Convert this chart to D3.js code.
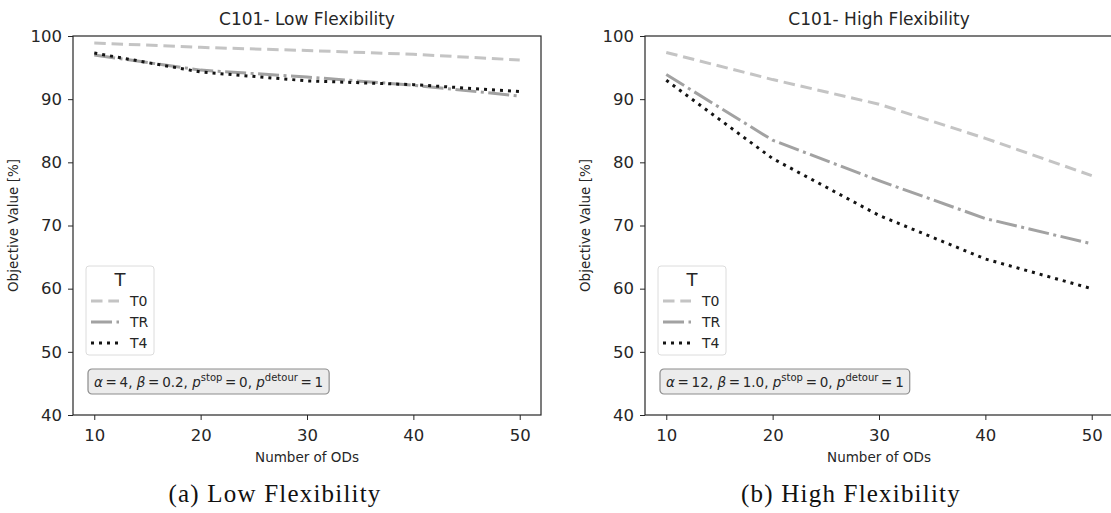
<!DOCTYPE html>
<meta charset="utf-8">
<style>
body { margin: 0; background: #fff; }
svg { display: block; font-family: "DejaVu Sans", sans-serif; }
.axis path, .axis line { stroke: #262626; }
.axis text { font-size: 16.5px; fill: #262626; font-family: "DejaVu Sans", sans-serif; }
.title { font-size: 17px; fill: #262626; }
.label { font-size: 13.5px; fill: #262626; }
.caption { font-family: "Liberation Serif", serif; font-size: 25px; letter-spacing: 1.2px; fill: #111; }
</style>
<svg width="1111" height="513"></svg>
<script src="https://d3js.org/d3.v7.min.js"></script>
<script>
// values
const ods = [10, 20, 30, 40, 50];
const seriesNames = ["T0", "TR", "T4"];
const lowT0 = [98.9, 98.2, 97.7, 97.1, 96.2];
const lowTR = [97.0, 94.6, 93.5, 92.2, 90.5];
const lowT4 = [97.3, 94.3, 92.9, 92.3, 91.2];
const highT0 = [97.4, 93.1, 89.2, 83.8, 77.9];
const highTR = [93.9, 83.5, 77.1, 71.1, 67.1];
const highT4 = [93.0, 80.6, 71.6, 64.7, 60.0];
const xTicks = [10, 20, 30, 40, 50];
const yTicks = [40, 50, 60, 70, 80, 90, 100];
const titles = ["C101- Low Flexibility", "C101- High Flexibility"];
const captions = ["(a) Low Flexibility", "(b) High Flexibility"];
const alphas = ["4", "12"];
const betas = ["0.2", "1.0"];

var styles = {
  T0: {color: "#c4c4c4", dash: "11.5,5.8"},
  TR: {color: "#a2a2a2", dash: "21,4.5,3,4.5"},
  T4: {color: "#141414", dash: "3,5"}
};

var panels = [
  {left: 73, right: 541, series: [lowT0, lowTR, lowT4]},
  {left: 645, right: 1113, series: [highT0, highTR, highT4]}
];
var plotTop = 36, plotBottom = 415;

var svg = d3.select("svg");

panels.forEach(function(p, i) {
  var w = p.right - p.left, h = plotBottom - plotTop;
  var g = svg.append("g").attr("transform", "translate(" + p.left + "," + plotTop + ")");

  var x = d3.scaleLinear().domain([8, 52]).range([0, w]);
  var y = d3.scaleLinear().domain([40, 100]).range([h, 0]);

  var line = d3.line()
    .x(function(d, k) { return x(ods[k]); })
    .y(function(d) { return y(d); });

  p.series.forEach(function(vals, s) {
    var st = styles[seriesNames[s]];
    g.append("path")
      .attr("d", line(vals))
      .attr("fill", "none")
      .attr("stroke", st.color)
      .attr("stroke-width", 3)
      .attr("stroke-dasharray", st.dash);
  });

  // frame
  g.append("rect")
    .attr("width", w).attr("height", h)
    .attr("fill", "none").attr("stroke", "#262626").attr("stroke-width", 1.2);

  g.append("g").attr("class", "axis")
    .attr("transform", "translate(0," + h + ")")
    .call(d3.axisBottom(x).tickValues(xTicks).tickSize(5).tickPadding(9))
    .call(function(a) { a.select(".domain").remove(); });

  g.append("g").attr("class", "axis")
    .call(d3.axisLeft(y).tickValues(yTicks).tickSize(5).tickPadding(6))
    .call(function(a) { a.select(".domain").remove(); });

  g.append("text").attr("class", "title")
    .attr("x", w / 2).attr("y", -11)
    .attr("text-anchor", "middle")
    .text(titles[i]);

  g.append("text").attr("class", "label")
    .attr("x", w / 2).attr("y", h + 47)
    .attr("text-anchor", "middle")
    .text("Number of ODs");

  g.append("text").attr("class", "label")
    .attr("transform", "translate(-55," + (h / 2) + ") rotate(-90)")
    .attr("text-anchor", "middle")
    .text("Objective Value [%]");

  // legend
  var lg = g.append("g").attr("transform", "translate(13,230)");
  lg.append("rect")
    .attr("width", 68).attr("height", 89).attr("rx", 3)
    .attr("fill", "#fff").attr("fill-opacity", 0.8)
    .attr("stroke", "#dcdcdc");
  lg.append("text")
    .attr("x", 34).attr("y", 20)
    .attr("text-anchor", "middle")
    .attr("font-size", 18).attr("fill", "#262626")
    .text("T");
  seriesNames.forEach(function(n, s) {
    var yy = 35 + s * 21;
    lg.append("line")
      .attr("x1", 5).attr("x2", 33)
      .attr("y1", yy).attr("y2", yy)
      .attr("stroke", styles[n].color)
      .attr("stroke-width", 3)
      .attr("stroke-dasharray", styles[n].dash);
    lg.append("text")
      .attr("x", 44).attr("y", yy + 5)
      .attr("font-size", 14).attr("fill", "#262626")
      .text(n);
  });

  // parameter box
  var ag = g.append("g").attr("transform", "translate(15,333)");
  var at = ag.append("text")
    .attr("x", 6).attr("y", 18)
    .attr("font-size", 13.5).attr("fill", "#262626");
  at.append("tspan").attr("font-style", "italic").text("α");
  at.append("tspan").text("\u2009=\u2009" + alphas[i] + ", ");
  at.append("tspan").attr("font-style", "italic").text("β");
  at.append("tspan").text("\u2009=\u2009" + betas[i] + ", ");
  at.append("tspan").attr("font-style", "italic").text("p");
  at.append("tspan").attr("font-size", 10).attr("dy", -6).text("stop");
  at.append("tspan").attr("dy", 6).text("\u2009=\u20090, ");
  at.append("tspan").attr("font-style", "italic").text("p");
  at.append("tspan").attr("font-size", 10).attr("dy", -6).text("detour");
  at.append("tspan").attr("dy", 6).text("\u2009=\u20091");
  var bb = at.node().getBBox();
  ag.insert("rect", "text")
    .attr("x", 0).attr("y", 0)
    .attr("width", bb.width + 12).attr("height", 25).attr("rx", 4)
    .attr("fill", "#ececec").attr("stroke", "#8c8c8c").attr("stroke-width", 1.2);

  svg.append("text").attr("class", "caption")
    .attr("x", p.left + (i === 0 ? 202 : 206)).attr("y", 502)
    .attr("text-anchor", "middle")
    .text(captions[i]);
});
</script>
